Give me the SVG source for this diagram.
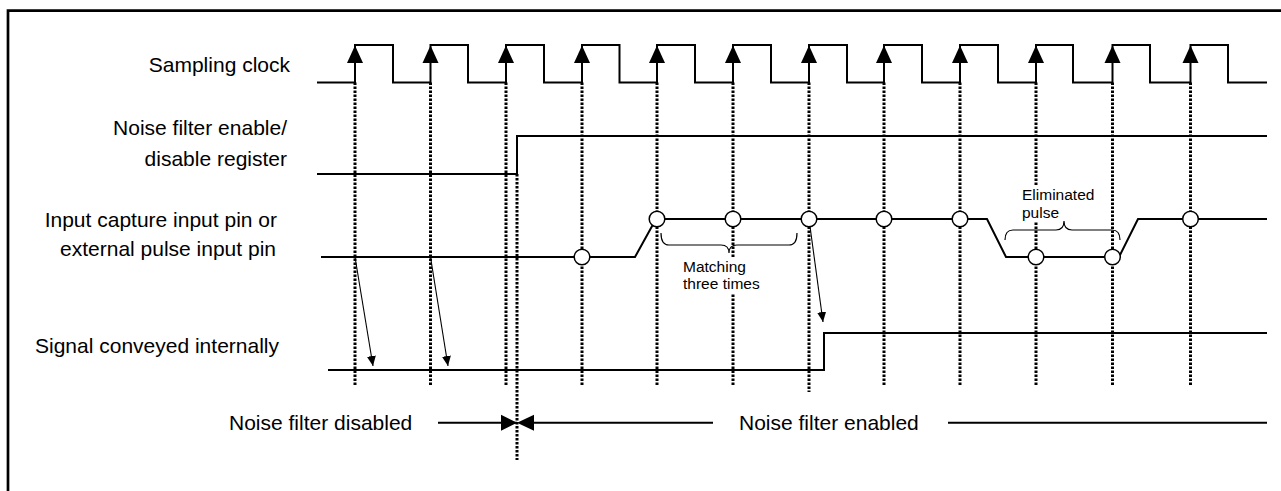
<svg xmlns="http://www.w3.org/2000/svg" width="1281" height="491" viewBox="0 0 1281 491">
<style>
text{font-family:"Liberation Sans",Arial,sans-serif;fill:#000}
.lbl{font-size:21px;text-anchor:end}
.big{font-size:21px}
.sm{font-size:15.5px}
.wave{fill:none;stroke:#000;stroke-width:2;stroke-linejoin:miter}
.dot{fill:none;stroke:#000;stroke-width:3;stroke-dasharray:2.5 1.5}
.thin{fill:none;stroke:#000;stroke-width:1.1}
.brace{fill:none;stroke:#000;stroke-width:1.2}
.smp{fill:#fff;stroke:#000;stroke-width:1.5}
.bg{fill:#fff;stroke:none}
</style>
<defs>
<polygon id="edge" points="0,45.5 -8,63 8,63" fill="#000"/>
<marker id="ah" markerUnits="userSpaceOnUse" markerWidth="10" markerHeight="10" refX="10" refY="4.5" orient="auto">
<path d="M0,0 L10,4.5 L0,9 z" fill="#000"/>
</marker>
</defs>
<rect width="1281" height="491" fill="#fff"/>
<path d="M8,491 V10.7 H1281" fill="none" stroke="#000" stroke-width="2.7"/>

<g id="labels">
<text class="lbl" x="290" y="72">Sampling clock</text>
<text class="lbl" x="287" y="134.5">Noise filter enable/</text>
<text class="lbl" x="287" y="165.5">disable register</text>
<text class="lbl" x="277" y="226.5">Input capture input pin or</text>
<text class="lbl" x="276" y="256">external pulse input pin</text>
<text class="lbl" x="279" y="352.5">Signal conveyed internally</text>
</g>

<g id="connectors">
<g id="sample-lines">
<path class="dot" d="M355,82.5V385 M430.5,82.5V385 M506,82.5V385 M582,82.5V385 M657,82.5V385 M733,82.5V385 M809,82.5V392 M884,82.5V385 M960,82.5V385 M1036,82.5V385 M1112.5,82.5V385 M1190.5,82.5V385"/>
<path class="dot" d="M517,174V460"/>
</g>
<g id="propagation-arrows">
<path class="thin" d="M355,257 L373,366" marker-end="url(#ah)"/>
<path class="thin" d="M430.5,257 L448,366" marker-end="url(#ah)"/>
<path class="thin" d="M809,219 L823,322" marker-end="url(#ah)"/>
</g>
<g id="filter-span">
<path class="wave" d="M438,422.7 H517 M534,422.7 H713 M948,422.7 H1267"/>
<polygon points="501,414.7 517,422.7 501,430.7" fill="#000"/>
<polygon points="534,414.7 517,422.7 534,430.7" fill="#000"/>
</g>
</g>

<g id="sampling-clock">
<path class="wave" d="M317,82.5 H355 V45 H393 V82.5 H430.5 V45 H468 V82.5 H506 V45 H544 V82.5 H582 V45 H619.5 V82.5 H657 V45 H695 V82.5 H733 V45 H771 V82.5 H809 V45 H847 V82.5 H884 V45 H922 V82.5 H960 V45 H998 V82.5 H1036 V45 H1073 V82.5 H1112.5 V45 H1150 V82.5 H1190.5 V45 H1228 V82.5 H1267"/>
<use href="#edge" x="355"/><use href="#edge" x="430.5"/><use href="#edge" x="506"/><use href="#edge" x="582"/>
<use href="#edge" x="657"/><use href="#edge" x="733"/><use href="#edge" x="809"/><use href="#edge" x="884"/>
<use href="#edge" x="960"/><use href="#edge" x="1036"/><use href="#edge" x="1112.5"/><use href="#edge" x="1190.5"/>
</g>

<g id="filter-register">
<path class="wave" d="M317,174 H517 V136 H1267"/>
</g>

<g id="input-pin">
<path class="wave" d="M321,257 H635 L656,219 H987 L1006,257 H1119 L1138,219 H1267"/>
<circle class="smp" cx="582" cy="257" r="7.8"/>
<circle class="smp" cx="657" cy="219" r="7.8"/>
<circle class="smp" cx="733" cy="219" r="7.8"/>
<circle class="smp" cx="809" cy="219" r="7.8"/>
<circle class="smp" cx="884" cy="219" r="7.8"/>
<circle class="smp" cx="960" cy="219" r="7.8"/>
<circle class="smp" cx="1036" cy="257" r="7.8"/>
<circle class="smp" cx="1112.5" cy="257" r="7.8"/>
<circle class="smp" cx="1190.5" cy="219" r="7.8"/>
</g>

<g id="internal-signal">
<path class="wave" d="M328,370 H824 V333 H1267"/>
</g>

<g id="matching-note">
<path class="brace" d="M661,233 Q661,245 669,245 H721 Q729,245 729,253 Q729,245 737,245 H789 Q797,245 797,233"/>
<rect class="bg" x="681" y="257" width="81" height="37"/>
<text class="sm" x="683" y="271.5">Matching</text>
<text class="sm" x="683" y="289">three times</text>
</g>

<g id="eliminated-note">
<rect class="bg" x="1020" y="185" width="78" height="37"/>
<path class="brace" d="M1005,240 Q1005,230 1013,230 H1056 Q1064,230 1064,221 Q1064,230 1072,230 H1112 Q1120,230 1120,240"/>
<text class="sm" x="1022" y="200">Eliminated</text>
<text class="sm" x="1022" y="217.5">pulse</text>
</g>

<g id="filter-state-labels">
<text class="big" x="229" y="429.5">Noise filter disabled</text>
<text class="big" x="739" y="429.5">Noise filter enabled</text>
</g>
</svg>
